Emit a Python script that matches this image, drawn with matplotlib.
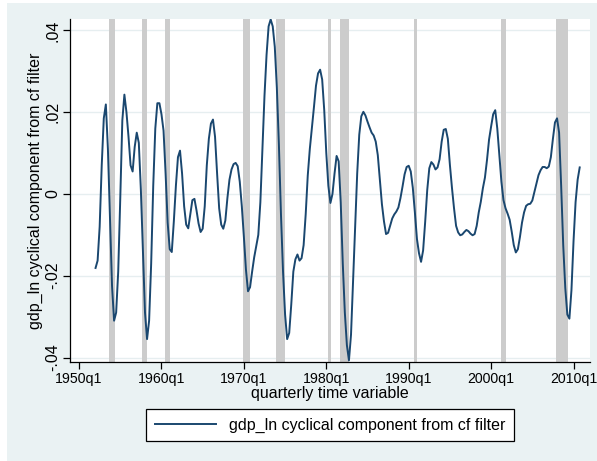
import numpy as np
import matplotlib
matplotlib.use("Agg")
import matplotlib.pyplot as plt
from matplotlib.patches import Rectangle

plt.rcParams['font.family'] = ['Liberation Sans', 'DejaVu Sans']

# ---- data -------------------------------------------------------------
start_year = 1952  # first observation: 1952q1, quarterly
cycle = [
    -0.0181, -0.0163, -0.0080, 0.0070,   # 1952
    0.0185, 0.0219, 0.0110, -0.0060,     # 1953
    -0.0225, -0.0310, -0.0290, -0.0190,  # 1954
    -0.0010, 0.0180, 0.0243, 0.0200,     # 1955
    0.0140, 0.0070, 0.0055, 0.0115,      # 1956
    0.0150, 0.0125, 0.0010, -0.0140,     # 1957
    -0.0290, -0.0355, -0.0310, -0.0170,  # 1958
    0.0020, 0.0160, 0.0222, 0.0222,      # 1959
    0.0195, 0.0155, 0.0050, -0.0070,     # 1960
    -0.0135, -0.0142, -0.0067, 0.0020,   # 1961
    0.0090, 0.0106, 0.0050, -0.0030,     # 1962
    -0.0075, -0.0084, -0.0050, -0.0015,  # 1963
    -0.0012, -0.0040, -0.0072, -0.0093,  # 1964
    -0.0085, -0.0030, 0.0070, 0.0135,    # 1965
    0.0172, 0.0182, 0.0140, 0.0050,      # 1966
    -0.0035, -0.0075, -0.0085, -0.0065,  # 1967
    -0.0010, 0.0035, 0.0060, 0.0073,     # 1968
    0.0076, 0.0068, 0.0030, -0.0030,     # 1969
    -0.0105, -0.0185, -0.0238, -0.0228,  # 1970
    -0.0190, -0.0155, -0.0128, -0.0100,  # 1971
    -0.0020, 0.0110, 0.0240, 0.0340,     # 1972
    0.0410, 0.0427, 0.0410, 0.0360,      # 1973
    0.0260, 0.0120, -0.0050, -0.0190,    # 1974
    -0.0295, -0.0355, -0.0340, -0.0270,  # 1975
    -0.0190, -0.0160, -0.0148, -0.0163,  # 1976
    -0.0157, -0.0125, -0.0050, 0.0045,   # 1977
    0.0110, 0.0160, 0.0212, 0.0265,      # 1978
    0.0295, 0.0304, 0.0280, 0.0205,      # 1979
    0.0100, 0.0020, -0.0022, 0.0000,     # 1980
    0.0050, 0.0093, 0.0080, -0.0020,     # 1981
    -0.0170, -0.0290, -0.0370, -0.0407,  # 1982
    -0.0344, -0.0214, -0.0080, 0.0050,   # 1983
    0.0145, 0.0190, 0.0201, 0.0192,      # 1984
    0.0177, 0.0163, 0.0150, 0.0143,      # 1985
    0.0128, 0.0095, 0.0035, -0.0025,     # 1986
    -0.0067, -0.0098, -0.0095, -0.0077,  # 1987
    -0.0060, -0.0050, -0.0043, -0.0033,  # 1988
    -0.0010, 0.0018, 0.0048, 0.0066,     # 1989
    0.0069, 0.0055, 0.0015, -0.0045,     # 1990
    -0.0110, -0.0145, -0.0166, -0.0138,  # 1991
    -0.0068, 0.0010, 0.0063, 0.0078,     # 1992
    0.0072, 0.0060, 0.0065, 0.0085,      # 1993
    0.0128, 0.0157, 0.0159, 0.0135,      # 1994
    0.0071, 0.0015, -0.0035, -0.0078,    # 1995
    -0.0094, -0.0101, -0.0099, -0.0093,  # 1996
    -0.0088, -0.0091, -0.0097, -0.0101,  # 1997
    -0.0098, -0.0078, -0.0045, -0.0019,  # 1998
    0.0014, 0.0040, 0.0083, 0.0133,      # 1999
    0.0165, 0.0195, 0.0205, 0.0160,      # 2000
    0.0095, 0.0030, -0.0015, -0.0035,    # 2001
    -0.0048, -0.0063, -0.0092, -0.0125,  # 2002
    -0.0143, -0.0135, -0.0105, -0.0070,  # 2003
    -0.0045, -0.0029, -0.0025, -0.0024,  # 2004
    -0.0016, 0.0005, 0.0027, 0.0046,     # 2005
    0.0058, 0.0066, 0.0066, 0.0063,      # 2006
    0.0067, 0.0090, 0.0135, 0.0175,      # 2007
    0.0185, 0.0150, 0.0020, -0.0125,     # 2008
    -0.0230, -0.0295, -0.0305, -0.0235,  # 2009
    -0.0116, -0.0020, 0.0035, 0.0065,    # 2010
]

# recession shading (start, end) in decimal years
rec_start = [1953.64, 1957.65, 1960.44, 1969.90, 1973.90, 1980.20, 1981.70, 1990.65, 2001.20, 2007.90]
rec_end   = [1954.30, 1958.25, 1961.04, 1970.75, 1975.00, 1980.60, 1982.80, 1991.00, 2001.80, 2009.35]

xtick_years = [1950, 1960, 1970, 1980, 1990, 2000, 2010]
xtick_labels = ["1950q1", "1960q1", "1970q1", "1980q1", "1990q1", "2000q1", "2010q1"]
ytick_vals = [-0.04, -0.02, 0.0, 0.02, 0.04]
ytick_labels = ["-.04", "-.02", "0", ".02", ".04"]

series_label = "gdp_ln cyclical component from cf filter"
xlabel = "quarterly time variable"
ylabel = "gdp_ln cyclical component from cf filter"

# ---- figure -------------------------------------------------------------
W, H = 597, 461
fig = plt.figure(figsize=(W / 100, H / 100), dpi=100)
fig.patch.set_facecolor("white")
# Stata-style bluish-gray graph region
fig.add_artist(Rectangle((7 / W, 0), 1 - 7 / W, 1 - 3 / H, transform=fig.transFigure,
                         facecolor="#EAF2F3", edgecolor="none", zorder=0))

L, R, T, B = 70, 590, 19, 362
ax = fig.add_axes([L / W, 1 - B / H, (R - L) / W, (B - T) / H])
ax.set_facecolor("white")

x = start_year + np.arange(len(cycle)) / 4.0

for s, e in zip(rec_start, rec_end):
    ax.axvspan(s, e, color="#CCCCCC", lw=0, zorder=1)

for v in ytick_vals:
    ax.axhline(v, color="#E6EEF0", lw=1.0, zorder=0.5)

line, = ax.plot(x, cycle, color="#1A476F", lw=1.4, zorder=3, label=series_label)

ax.set_xlim(1948.9, 2012.0)
ax.set_ylim(-0.0411, 0.0428)

ax.set_xticks(xtick_years)
ax.set_xticklabels(xtick_labels, fontsize=10.2)
ax.set_yticks(ytick_vals)
ax.set_yticklabels(ytick_labels, fontsize=11.5, rotation=90, va="center")

for sp in ["top", "right"]:
    ax.spines[sp].set_visible(False)
for sp in ["left", "bottom"]:
    ax.spines[sp].set_color("black")
    ax.spines[sp].set_linewidth(0.9)
ax.tick_params(axis="both", direction="out", length=5, width=0.9, color="black", pad=2)

ax.set_xlabel(xlabel, fontsize=11.5, labelpad=0)
ax.set_ylabel(ylabel, fontsize=11.5)
ax.yaxis.set_label_coords(-0.052, 0.5)

leg = fig.legend(handles=[line], labels=[series_label], loc="center",
                 bbox_to_anchor=(330 / W, 1 - 425 / H), fontsize=11.5,
                 frameon=True, fancybox=False, edgecolor="black", framealpha=1,
                 handlelength=3.8, handletextpad=0.8, borderpad=0.55,
                 borderaxespad=0)
leg.get_frame().set_linewidth(0.9)
leg.get_frame().set_facecolor("white")

fig.savefig("out.png", dpi=100, facecolor=fig.get_facecolor())
